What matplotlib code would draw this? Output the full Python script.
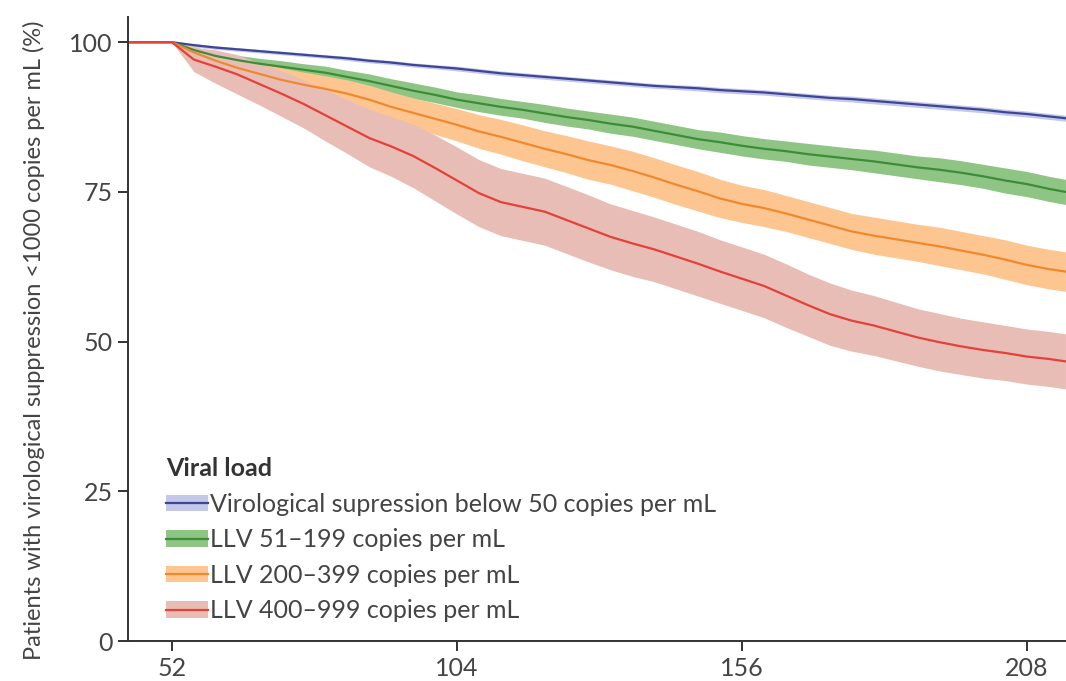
import numpy as np
import matplotlib
matplotlib.use("Agg")
import matplotlib.pyplot as plt
from matplotlib.patches import Patch
from matplotlib.lines import Line2D

plt.rcParams['font.family'] = ['Lato', 'DejaVu Sans']

weeks = [44] + list(range(52, 213, 4)) + [215]

blue = [100, 100, 99.5, 99.1, 98.8, 98.5, 98.2, 97.9, 97.6, 97.3, 96.9, 96.6, 96.2, 95.9, 95.6,
        95.2, 94.8, 94.5, 94.2, 93.9, 93.6, 93.3, 93.0, 92.7, 92.5, 92.3, 92.0, 91.8, 91.6,
        91.3, 91.0, 90.7, 90.5, 90.2, 89.9, 89.6, 89.3, 89.0, 88.7, 88.3, 88.0, 87.6, 87.3]
green = [100, 100, 98.7, 97.7, 97.0, 96.4, 95.9, 95.4, 94.9, 94.2, 93.5, 92.7, 91.9, 91.2,
         90.4, 89.8, 89.2, 88.7, 88.1, 87.5, 87.0, 86.4, 85.9, 85.2, 84.5, 83.8, 83.3, 82.7,
         82.2, 81.8, 81.3, 80.9, 80.5, 80.1, 79.6, 79.1, 78.7, 78.2, 77.6, 76.9, 76.3, 75.5, 75.0]
orange = [100, 100, 98.3, 96.9, 95.7, 94.7, 93.7, 92.9, 92.2, 91.4, 90.4, 89.2, 88.2, 87.2,
          86.2, 85.1, 84.2, 83.2, 82.2, 81.3, 80.3, 79.5, 78.5, 77.4, 76.2, 75.1, 73.9, 73.0,
          72.3, 71.4, 70.4, 69.4, 68.4, 67.7, 67.1, 66.5, 65.9, 65.2, 64.5, 63.7, 62.8, 62.1, 61.7]
red = [100, 100, 97.1, 95.9, 94.6, 93.0, 91.4, 89.7, 87.8, 85.9, 84.0, 82.6, 81.0, 79.0,
       76.9, 74.8, 73.3, 72.5, 71.7, 70.3, 68.9, 67.5, 66.4, 65.4, 64.2, 63.0, 61.7, 60.5,
       59.3, 57.7, 56.1, 54.6, 53.5, 52.7, 51.7, 50.7, 49.9, 49.2, 48.6, 48.1, 47.5, 47.1, 46.7]

# confidence-band half widths (percentage points) at the same weeks
blue_ci = [0, 0, 0.3, 0.3, 0.3, 0.3, 0.3, 0.3, 0.3, 0.35, 0.35, 0.35, 0.35, 0.35, 0.4,
           0.4, 0.4, 0.4, 0.4, 0.4, 0.4, 0.4, 0.4, 0.4, 0.4, 0.45, 0.45, 0.45, 0.45,
           0.45, 0.45, 0.45, 0.5, 0.5, 0.5, 0.5, 0.5, 0.5, 0.5, 0.5, 0.5, 0.5, 0.5]
green_ci = [0, 0, 0.5, 0.7, 0.8, 0.9, 1.0, 1.0, 1.1, 1.1, 1.2, 1.2, 1.3, 1.3, 1.3,
            1.4, 1.4, 1.4, 1.5, 1.5, 1.5, 1.6, 1.6, 1.6, 1.6, 1.6, 1.7, 1.7, 1.7,
            1.7, 1.8, 1.8, 1.8, 1.9, 1.9, 1.9, 2.0, 2.0, 2.0, 2.1, 2.1, 2.1, 2.1]
orange_ci = [0, 0, 1.0, 1.3, 1.6, 1.8, 2.0, 2.1, 2.2, 2.3, 2.4, 2.5, 2.5, 2.6, 2.7,
             2.8, 2.9, 3.0, 3.0, 3.1, 3.2, 3.2, 3.3, 3.3, 3.3, 3.3, 3.2, 3.1, 3.1,
             3.0, 3.0, 3.0, 3.0, 3.1, 3.1, 3.1, 3.2, 3.2, 3.2, 3.3, 3.3, 3.3, 3.3]
red_ci = [0, 0, 2.0, 2.8, 3.3, 3.5, 3.8, 4.0, 4.3, 4.5, 4.8, 5.0, 5.3, 5.5, 5.6,
          5.6, 5.6, 5.6, 5.6, 5.6, 5.6, 5.5, 5.5, 5.4, 5.4, 5.4, 5.3, 5.3, 5.3,
          5.3, 5.2, 5.2, 5.1, 5.0, 4.9, 4.8, 4.8, 4.7, 4.7, 4.6, 4.6, 4.6, 4.6]

labels = ["Virological supression below 50 copies per mL",
          "LLV 51\u2013199 copies per mL",
          "LLV 200\u2013399 copies per mL",
          "LLV 400\u2013999 copies per mL"]
line_colors = ["#3b4796", "#3d8c3a", "#f0892e", "#e5403a"]
band_colors = ["#c5c8e8", "#8fc584", "#fdc690", "#e8bdb5"]

xticks = [52, 104, 156, 208]
yticks = [0, 25, 50, 75, 100]
xmin, xmax = 44.0, 215.1

fig = plt.figure(figsize=(10.66, 6.81), dpi=100)
ax = fig.add_axes([0.1201, 0.0587, 0.8799, 0.9163])

series = [(blue, blue_ci), (green, green_ci), (orange, orange_ci), (red, red_ci)]
handles = []
for (vals, ci), lc, bc, lab in zip(series, line_colors, band_colors, labels):
    x = np.array(weeks, float)
    y = np.array(vals, float)
    c = np.array(ci, float)
    ax.fill_between(x, y - c, y + c, color=bc, lw=0)
    ax.plot(x, y, color=lc, lw=1.6)
    handles.append((Patch(facecolor=bc, edgecolor='none'), Line2D([], [], color=lc, lw=1.6)))

ax.set_xlim(xmin, xmax)
ax.set_ylim(0, 104.2)
ax.set_xticks(xticks)
ax.set_yticks(yticks)
ax.spines['top'].set_visible(False)
ax.spines['right'].set_visible(False)
for s in ['left', 'bottom']:
    ax.spines[s].set_linewidth(1.4)
    ax.spines[s].set_color('#333333')
ax.tick_params(axis='both', length=7.5, width=1.4, color='#333333', labelsize=18,
               labelcolor='#444444')
ax.tick_params(axis='x', pad=4)
ax.tick_params(axis='y', pad=3.5)
ax.set_ylabel("Patients with virological suppression <1000 copies per mL (%)",
              fontsize=17, color='#444444')
ax.yaxis.set_label_coords(-0.089, 0.482)

leg = ax.legend(handles, labels, title="Viral load", loc='lower left',
                bbox_to_anchor=(0.027, 0.01), borderpad=0, frameon=False, fontsize=18,
                handlelength=1.68, handleheight=0.65, handletextpad=0.1,
                labelspacing=0.5, alignment='left', labelcolor='#444444')
leg.get_title().set_fontweight('bold')
leg.get_title().set_fontsize(18)
leg.get_title().set_color('#333333')

fig.savefig("out.png", dpi=100, facecolor='white')
